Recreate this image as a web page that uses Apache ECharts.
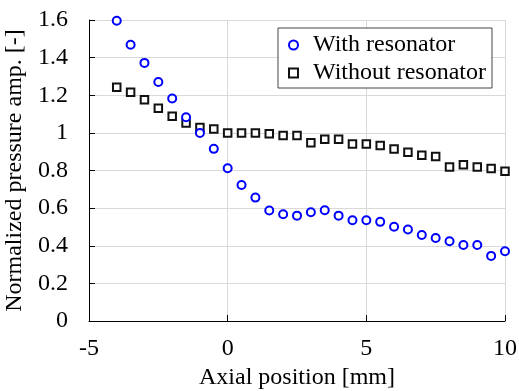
<!DOCTYPE html>
<html><head><meta charset="utf-8">
<script src="https://cdn.jsdelivr.net/npm/echarts@6/dist/echarts.min.js"></script>
<style>html,body{margin:0;padding:0;background:#fff}#c{width:519px;height:391px}</style>
</head><body><div id="c"></div>
<script>
const positions = [-4,-3.5,-3,-2.5,-2,-1.5,-1,-0.5,0,0.5,1,1.5,2,2.5,3,3.5,4,4.5,5,5.5,6,6.5,7,7.5,8,8.5,9,9.5,10];
const withResonator = [1.596,1.468,1.372,1.270,1.183,1.083,1.0,0.915,0.812,0.723,0.656,0.587,0.567,0.560,0.578,0.589,0.560,0.536,0.536,0.527,0.501,0.486,0.457,0.441,0.424,0.404,0.404,0.346,0.371];
const withoutResonator = [1.243,1.216,1.176,1.131,1.089,1.052,1.028,1.020,1.0,1.0,1.0,0.995,0.986,0.986,0.948,0.966,0.966,0.941,0.941,0.933,0.914,0.897,0.881,0.874,0.819,0.831,0.819,0.810,0.796];
const seriesNames = ['With resonator','Without resonator'];
const xTitle = 'Axial position [mm]';
const yTitle = 'Normalized pressure amp. [-]';

const font = 'Liberation Serif';
const chart = echarts.init(document.getElementById('c'));
chart.setOption({
  animation:false,
  backgroundColor:'#fff',
  grid:{left:89,right:14,top:20,bottom:70,containLabel:false,outerBoundsMode:'none'},
  legend:{
    orient:'vertical', left:278, top:28,
    data:seriesNames,
    backgroundColor:'#fff', borderColor:'#444', borderWidth:1,
    padding:[5,6,3,10], itemGap:4, itemWidth:9, itemHeight:9,
    textStyle:{fontFamily:font, fontSize:24, color:'#000', padding:[0,0,0,10]}
  },
  xAxis:{
    type:'value', min:-5, max:10, interval:5,
    name:xTitle, nameLocation:'middle', nameGap:45,
    nameTextStyle:{fontFamily:font, fontSize:24, color:'#000'},
    axisLine:{lineStyle:{color:'#000', width:1}},
    axisTick:{inside:true, length:6, lineStyle:{color:'#000'}},
    axisLabel:{fontFamily:font, fontSize:24, color:'#000', margin:16},
    splitLine:{show:true, lineStyle:{color:'#d9d9d9'}}
  },
  yAxis:{
    type:'value', min:0, max:1.6, interval:0.2,
    name:yTitle, nameLocation:'middle', nameGap:55,
    nameTextStyle:{fontFamily:font, fontSize:24, color:'#000'},
    axisLine:{show:true, onZero:false, lineStyle:{color:'#000', width:1}},
    axisTick:{show:true, inside:true, length:6, lineStyle:{color:'#000'}},
    axisLabel:{fontFamily:font, fontSize:24, color:'#000', margin:21},
    splitLine:{show:true, lineStyle:{color:'#d9d9d9'}}
  },
  series:[
    {name:seriesNames[0], type:'scatter', symbol:'circle', symbolSize:8,
     itemStyle:{color:'#fff', borderColor:'#0000ff', borderWidth:2, opacity:1},
     data:positions.map((x,i)=>[x,withResonator[i]]), z:3},
    {name:seriesNames[1], type:'scatter', symbol:'rect', symbolSize:7.5,
     itemStyle:{color:'#fff', borderColor:'#111', borderWidth:2, opacity:1},
     data:positions.map((x,i)=>[x,withoutResonator[i]]), z:2}
  ]
});
</script></body></html>
